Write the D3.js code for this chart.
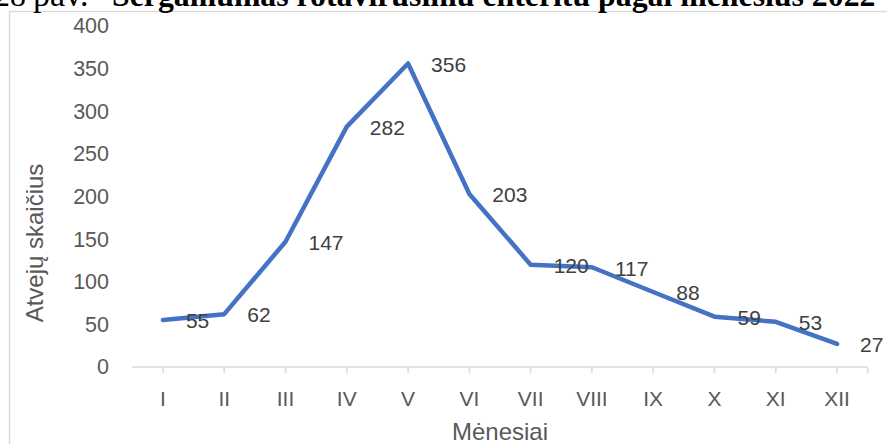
<!DOCTYPE html>
<html>
<head>
<meta charset="utf-8">
<script src="https://cdn.jsdelivr.net/npm/d3@7"></script>
<style>
  body { margin: 0; background: #fff; overflow: hidden; }
  svg { display: block; }
</style>
</head>
<body>
<div id="chart"></div>
<script>
var w = 887;
var h = 444;

// data
var months = ["I", "II", "III", "IV", "V", "VI", "VII", "VIII", "IX", "X", "XI", "XII"];
var cases = [55, 62, 147, 282, 356, 203, 120, 117, 88, 59, 53, 27];
var yTicks = [0, 50, 100, 150, 200, 250, 300, 350, 400];

var font = "'Liberation Sans', Arial, sans-serif";

var svg = d3.select("#chart")
    .append("svg")
    .attr("width", w)
    .attr("height", h);

// chart area border
svg.append("rect")
    .attr("x", 9.5)
    .attr("y", 11.5)
    .attr("width", 900)
    .attr("height", 460)
    .attr("fill", "none")
    .attr("stroke", "#d9d9d9")
    .attr("stroke-width", 1.3);

// title (cut off at the top like the source)
var title = svg.append("text")
    .attr("y", 5.5)
    .attr("font-family", "'Liberation Serif', 'Times New Roman', serif")
    .attr("font-size", "31.8px")
    .attr("fill", "#000");
title.append("tspan").attr("x", -6).text("28");
title.append("tspan").attr("x", 33).attr("font-size", "34px").text("pav.");
title.append("tspan").attr("x", 112).attr("font-weight", "bold")
    .text("Sergamumas rotavirusiniu enteritu pagal mėnesius 2022");

var xScale = d3.scaleBand()
    .domain(months)
    .range([132.3, 867.7]);

var yScale = d3.scaleLinear()
    .domain([0, 400])
    .range([367, 26]);

var cx = function (d, i) { return xScale(months[i]) + xScale.bandwidth() / 2; };

// x axis
var xAxis = d3.axisBottom(xScale).tickSize(6).tickPadding(18);
var gx = svg.append("g")
    .attr("transform", "translate(0," + yScale(0) + ")")
    .call(xAxis);
gx.select(".domain").attr("stroke", "#d9d9d9").attr("stroke-width", 1.5)
    .attr("d", "M" + xScale.range()[0] + ",0H" + xScale.range()[1]);
gx.selectAll(".tick line").attr("stroke", "#d9d9d9").attr("stroke-width", 1.5);
gx.append("line")
    .attr("x1", xScale.range()[1]).attr("x2", xScale.range()[1])
    .attr("y1", 0).attr("y2", 6)
    .attr("stroke", "#d9d9d9").attr("stroke-width", 1.5);
gx.selectAll(".tick text")
    .attr("font-family", font)
    .attr("font-size", "21px")
    .attr("fill", "#595959");

// y axis (labels only)
var yAxis = d3.axisLeft(yScale).tickValues(yTicks).tickSize(0).tickPadding(0);
var gy = svg.append("g")
    .attr("transform", "translate(109,0)")
    .call(yAxis);
gy.select(".domain").remove();
gy.selectAll(".tick text")
    .attr("font-family", font)
    .attr("font-size", "21.5px")
    .attr("fill", "#595959");

// line
var line = d3.line()
    .x(cx)
    .y(function (d) { return yScale(d); });

svg.append("path")
    .datum(cases)
    .attr("d", line)
    .attr("fill", "none")
    .attr("stroke", "#4472c4")
    .attr("stroke-width", 4.5)
    .attr("stroke-linejoin", "round")
    .attr("stroke-linecap", "round");

// data labels, right of each point
svg.selectAll("text.lbl")
    .data(cases)
    .enter()
    .append("text")
    .attr("class", "lbl")
    .attr("x", function (d, i) { return cx(d, i) + 23; })
    .attr("y", function (d) { return yScale(d) + 1; })
    .attr("dy", "0.35em")
    .attr("font-family", font)
    .attr("font-size", "21px")
    .attr("fill", "#404040")
    .text(function (d) { return d; });

// axis titles
svg.append("text")
    .attr("transform", "translate(43,243) rotate(-90)")
    .attr("text-anchor", "middle")
    .attr("font-family", font)
    .attr("font-size", "24px")
    .attr("fill", "#595959")
    .text("Atvejų skaičius");

svg.append("text")
    .attr("x", (xScale.range()[0] + xScale.range()[1]) / 2)
    .attr("y", 440)
    .attr("text-anchor", "middle")
    .attr("font-family", font)
    .attr("font-size", "24px")
    .attr("fill", "#595959")
    .text("Mėnesiai");
</script>
</body>
</html>
